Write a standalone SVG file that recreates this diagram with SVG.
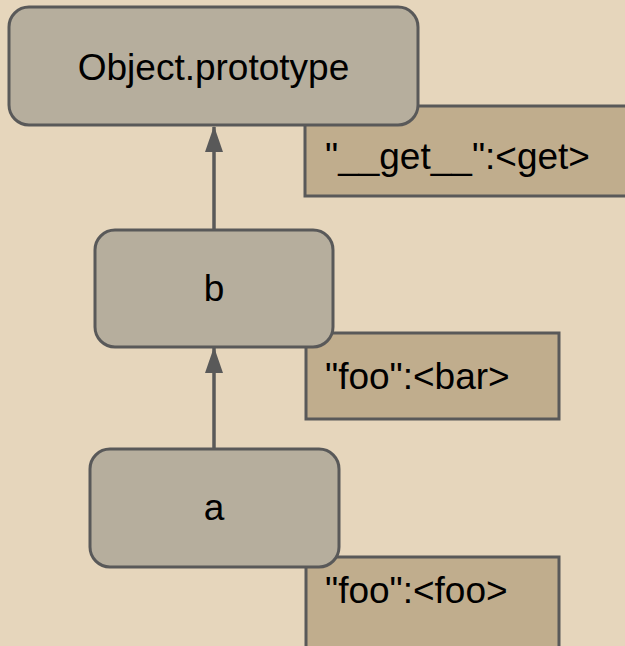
<svg xmlns="http://www.w3.org/2000/svg" width="625" height="646" viewBox="0 0 625 646">
  <defs>
    <marker id="arrowhead" viewBox="0 0 26 18" refX="25" refY="9" markerWidth="26" markerHeight="18" markerUnits="userSpaceOnUse" orient="auto">
      <path d="M0 0 L26 9 L0 18 Z" fill="#595959"/>
    </marker>
    <style>
      .node { fill: #b6ae9d; stroke: #595959; stroke-width: 3; }
      .slot { fill: #c0ad8d; stroke: #595959; stroke-width: 3; }
      .node-text { font-family: "Liberation Sans", Arial, sans-serif; font-size: 37px; fill: #000; text-anchor: middle; }
      .slot-text { font-family: "Liberation Sans", Arial, sans-serif; font-size: 37px; fill: #000; }
      .link { stroke: #595959; stroke-width: 3.5; fill: none; }
    </style>
  </defs>

  <rect x="0" y="0" width="625" height="646" fill="#e6d6bc"/>

  <!-- property slots sit behind the object boxes -->
  <g id="slot-get">
    <rect class="slot" x="305" y="106" width="330" height="90"/>
    <text class="slot-text" x="325" y="169">"__get__":&lt;get&gt;</text>
  </g>
  <g id="slot-bar">
    <rect class="slot" x="306" y="333" width="253" height="86"/>
    <text class="slot-text" x="325" y="389">"foo":&lt;bar&gt;</text>
  </g>
  <g id="slot-foo">
    <rect class="slot" x="306" y="557" width="253" height="100"/>
    <text class="slot-text" x="325" y="603">"foo":&lt;foo&gt;</text>
  </g>

  <!-- prototype chain links -->
  <g id="connectors">
    <line class="link" x1="214" y1="229" x2="214" y2="127" marker-end="url(#arrowhead)"/>
    <line class="link" x1="214" y1="449" x2="214" y2="348" marker-end="url(#arrowhead)"/>
  </g>

  <g id="object-prototype">
    <rect class="node" x="9" y="7" width="409" height="118" rx="20" ry="20"/>
    <text class="node-text" x="213.5" y="80">Object.prototype</text>
  </g>
  <g id="b">
    <rect class="node" x="95" y="230" width="238" height="117" rx="20" ry="20"/>
    <text class="node-text" x="214" y="301">b</text>
  </g>
  <g id="a">
    <rect class="node" x="90" y="449" width="249" height="118" rx="20" ry="20"/>
    <text class="node-text" x="214" y="520">a</text>
  </g>
</svg>
